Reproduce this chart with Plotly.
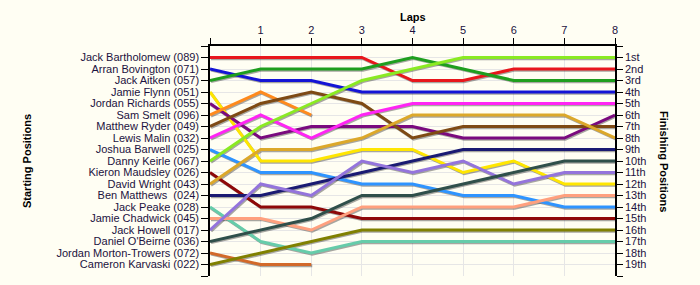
import plotly.graph_objects as go

laps = [0, 1, 2, 3, 4, 5, 6, 7, 8]
lap_labels = ["", "1", "2", "3", "4", "5", "6", "7", "8"]

drivers = ["Jack Bartholomew", "Arran Bovington", "Jack Aitken", "Jamie Flynn",
           "Jordan Richards", "Sam Smelt", "Matthew Ryder", "Lewis Malin",
           "Joshua Barwell", "Danny Keirle", "Kieron Maudsley", "David Wright",
           "Ben Matthews ", "Jack Peake", "Jamie Chadwick", "Jack Howell",
           "Daniel O'Beirne", "Jordan Morton-Trowers", "Cameron Karvaski"]
numbers = ["089", "071", "057", "051", "055", "096", "049", "032", "025", "067",
           "026", "043", "024", "028", "045", "017", "036", "072", "022"]
colors = ["#E8161C", "#1414D6", "#1E9E1E", "#FFE600", "#7A0A7E", "#FF8A1C",
          "#7E4A14", "#FF24F4", "#2E94FF", "#8AEA22", "#8E0808", "#DCA82A",
          "#1A1A72", "#66CCAA", "#FFA07E", "#9474DC", "#2F4F4A", "#D2692A",
          "#808000"]

# position of each driver after each lap (lap 0 = start); None = retired
positions = [
    [1, 1, 1, 1, 3, 3, 2, 2, 2],
    [2, 3, 3, 4, 4, 4, 4, 4, 4],
    [3, 2, 2, 2, 1, 2, 3, 3, 3],
    [4, 10, 10, 9, 9, 11, 10, 12, 12],
    [5, 8, 7, 7, 7, 8, 8, 8, 6],
    [6, 4, 6, None, None, None, None, None, None],
    [7, 5, 4, 5, 8, 7, 7, 7, 7],
    [8, 6, 8, 6, 5, 5, 5, 5, 5],
    [9, 11, 11, 12, 12, 13, 13, 14, 14],
    [10, 7, 5, 3, 2, 1, 1, 1, 1],
    [11, 14, 14, 15, 15, 15, 15, 15, 15],
    [12, 9, 9, 8, 6, 6, 6, 6, 8],
    [13, 13, 12, 11, 10, 9, 9, 9, 9],
    [14, 17, 18, 17, 17, 17, 17, 17, 17],
    [15, 15, 16, 14, 14, 14, 14, 13, 13],
    [16, 12, 13, 10, 11, 10, 12, 11, 11],
    [17, 16, 15, 13, 13, 12, 11, 10, 10],
    [18, 19, 19, None, None, None, None, None, None],
    [19, 18, 17, 16, 16, 16, 16, 16, 16],
]

finish_labels = ["1st", "2nd", "3rd", "4th", "5th", "6th", "7th", "8th", "9th",
                 "10th", "11th", "12th", "13th", "14th", "15th", "16th", "17th",
                 "18th", "19th"]

n = len(drivers)
rows = list(range(0, n + 2))
start_text = [""] + [f"{d} ({c})" for d, c in zip(drivers, numbers)] + [""]
finish_text = [""] + finish_labels + [""]

fig = go.Figure()

# drop shadows
for pos in positions:
    xs = [x + 0.02 for x, p in zip(laps, pos) if p is not None]
    ys = [p + 0.1 for p in pos if p is not None]
    fig.add_trace(go.Scatter(x=xs, y=ys, mode="lines",
                             line=dict(color="rgba(60,60,60,0.45)", width=3),
                             hoverinfo="skip", showlegend=False))

for name, col, pos in zip(drivers, colors, positions):
    xs = [x for x, p in zip(laps, pos) if p is not None]
    ys = [p for p in pos if p is not None]
    fig.add_trace(go.Scatter(x=xs, y=ys, mode="lines", name=name,
                             line=dict(color=col, width=3),
                             showlegend=False))

# invisible trace for the right axis
fig.add_trace(go.Scatter(x=[0], y=[1], yaxis="y2", mode="markers",
                         marker=dict(opacity=0), hoverinfo="skip",
                         showlegend=False))

tickfont = dict(family="Liberation Sans, Arial, sans-serif", size=11,
                color="#1c1240")

fig.update_layout(
    width=700, height=285,
    margin=dict(l=210, r=85, t=46, b=9),
    paper_bgcolor="#FFFEF3",
    plot_bgcolor="#FFFEF3",
    xaxis=dict(range=[0, 8], side="top", tickvals=laps, ticktext=lap_labels,
               ticks="outside", ticklen=6, tickcolor="black",
               showline=True, linecolor="black", linewidth=1.5,
               showgrid=True, gridcolor="#E6E6E6", gridwidth=1,
               zeroline=False, tickfont=tickfont, fixedrange=True),
    yaxis=dict(range=[20, 0], tickvals=rows, ticktext=start_text,
               ticks="outside", ticklen=7, tickcolor="black",
               showline=True, linecolor="black", linewidth=1.5,
               showgrid=True, gridcolor="#E6E6E6", gridwidth=1,
               zeroline=False, tickfont=tickfont, fixedrange=True),
    yaxis2=dict(range=[20, 0], overlaying="y", side="right", tickvals=rows,
                ticktext=finish_text, ticks="outside", ticklen=6,
                tickcolor="black", showline=True, linecolor="black",
                linewidth=1.5, showgrid=False, zeroline=False,
                tickfont=tickfont, fixedrange=True),
    annotations=[
        dict(text="<b>Laps</b>", xref="paper", yref="paper", x=0.5, y=1,
             yshift=29, showarrow=False, xanchor="center", yanchor="middle",
             font=dict(family="Liberation Sans, Arial, sans-serif", size=11,
                       color="black")),
        dict(text="<b>Starting Positions</b>", xref="paper", yref="paper",
             x=0, y=0.5, xshift=-183, showarrow=False, textangle=-90,
             xanchor="center", yanchor="middle",
             font=dict(family="Liberation Sans, Arial, sans-serif", size=11,
                       color="black")),
        dict(text="<b>Finishing Positions</b>", xref="paper", yref="paper",
             x=1, y=0.5, xshift=49, showarrow=False, textangle=90,
             xanchor="center", yanchor="middle",
             font=dict(family="Liberation Sans, Arial, sans-serif", size=11,
                       color="black")),
    ],
)

fig.write_html("out.html")
